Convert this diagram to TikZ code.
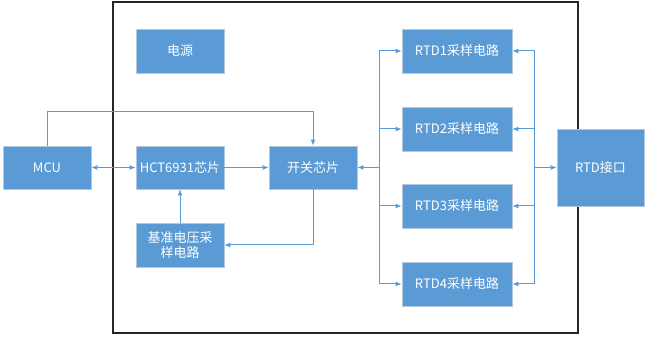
\documentclass[tikz,border=0pt]{standalone}
\usepackage{fontspec}
\setmainfont{Noto Sans CJK SC}
\usetikzlibrary{arrows.meta}
\definecolor{boxblue}{HTML}{5B9BD5}
\definecolor{boxedge}{HTML}{B4C7DC}
\definecolor{linkblue}{HTML}{5B9BD5}
\tikzset{
  blk/.style={draw=boxedge, line width=0.8pt, fill=boxblue, text=white, font=\fontsize{13}{15.5}\selectfont, inner sep=0pt, align=center},
  conn/.style={draw=linkblue, line width=1pt, -{Latex[length=6pt,width=5pt]}},
  dconn/.style={draw=linkblue, line width=1pt, {Latex[length=6pt,width=5pt]}-{Latex[length=6pt,width=5pt]}},
}
\begin{document}
\begin{tikzpicture}[x=1pt,y=-1pt]
\useasboundingbox (0,0) rectangle (649,339);
\draw[line width=1.1pt, black!85] (113,2) rectangle (578,333);
\node[blk, minimum width=88pt, minimum height=43pt] (mcu) at (47,167.5) {MCU};
\node[blk, minimum width=88pt, minimum height=43pt] (hct) at (180,167.5) {HCT6931芯片};
\node[blk, minimum width=88pt, minimum height=43pt] (kg) at (313,167.5) {开关芯片};
\node[blk, minimum width=88pt, minimum height=44pt] (jz) at (180,245) {基准电压采\\样电路};
\node[blk, minimum width=88pt, minimum height=44pt] (dy) at (180,51) {电源};
\node[blk, minimum width=110pt, minimum height=44pt] (r1) at (457,51) {RTD1采样电路};
\node[blk, minimum width=110pt, minimum height=44pt] (r2) at (457,129) {RTD2采样电路};
\node[blk, minimum width=110pt, minimum height=44pt] (r3) at (457,206) {RTD3采样电路};
\node[blk, minimum width=110pt, minimum height=44pt] (r4) at (457,284) {RTD4采样电路};
\node[blk, minimum width=87pt, minimum height=77pt] (jk) at (600.5,167.5) {RTD接口};
\coordinate (lb) at (379,167.5);
\coordinate (rb) at (534,167.5);
\draw[conn] (mcu.north) -- ++(0,-34) -| (kg.north);
\draw[dconn] (mcu.east) -- (hct.west);
\draw[conn] (hct.east) -- (kg.west);
\draw[conn] (jz.north) -- (hct.south);
\draw[conn] (kg.south) |- (jz.east);
\draw[conn] (lb) -- (kg.east);
\foreach \r in {r1,r2,r3,r4} {
  \draw[conn] (lb) |- (\r.west);
  \draw[conn] (rb) |- (\r.east);
}
\draw[conn] (rb) -- (jk.west);
\end{tikzpicture}
\end{document}
